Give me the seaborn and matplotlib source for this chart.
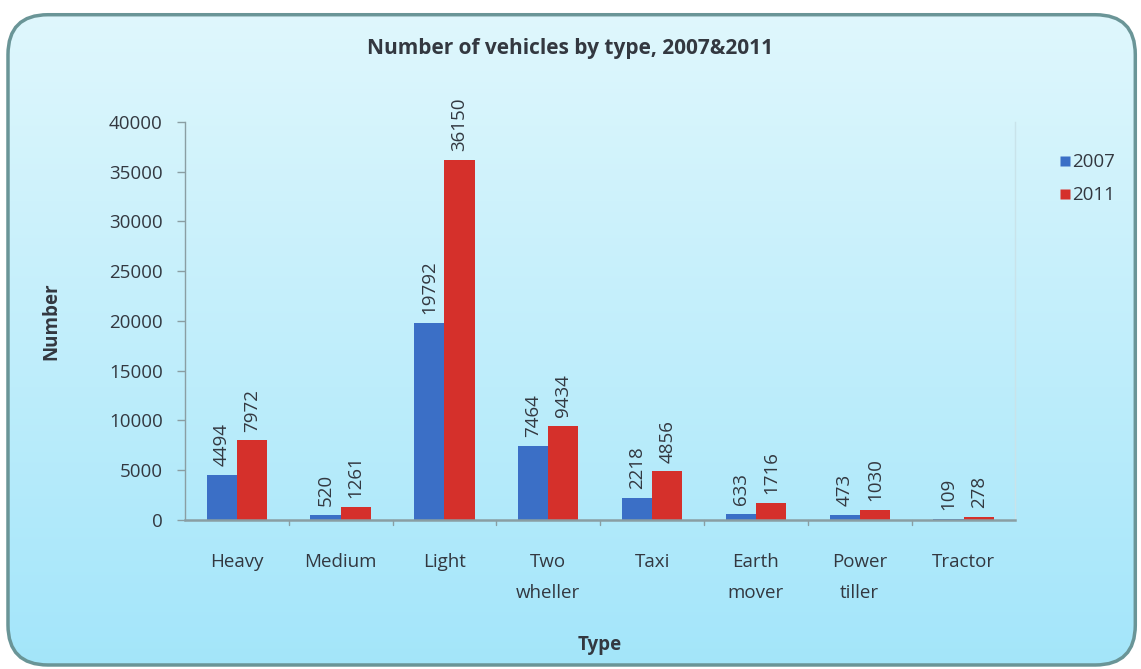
import numpy as np
import pandas as pd
import matplotlib
matplotlib.use('Agg')
import matplotlib.pyplot as plt
import seaborn as sns
from matplotlib.patches import FancyBboxPatch
from matplotlib.lines import Line2D

#------Data

types = ['Heavy', 'Medium', 'Light', 'Two\nwheller', 'Taxi', 'Earth\nmover', 'Power\ntiller', 'Tractor']
years = ['2007', '2011']
values_2007 = [4494, 520, 19792, 7464, 2218, 633, 473, 109]
values_2011 = [7972, 1261, 36150, 9434, 4856, 1716, 1030, 278]
y_ticks = [0, 5000, 10000, 15000, 20000, 25000, 30000, 35000, 40000]

df = pd.DataFrame({
    'Type': types * 2,
    'Year': [years[0]] * len(types) + [years[1]] * len(types),
    'Number': values_2007 + values_2011,
})

#-------Settings

sns.set_theme(style="white")
plt.rcParams['font.family'] = ['Open Sans', 'DejaVu Sans']
txt = '#333840'
axc = '#8a9ea3'
colors = {'2007': '#3b6fc6', '2011': '#d5302b'}

fig = plt.figure(figsize=(11.41, 6.69), dpi=100)

#------Background panel (rounded, gradient)

bg = fig.add_axes([0, 0, 1, 1])
bg.set_xlim(0, 1)
bg.set_ylim(0, 1)
bg.axis('off')
grad = np.linspace(0, 1, 256).reshape(-1, 1)
top_c = np.array([0.88, 0.97, 0.99])
bot_c = np.array([0.64, 0.90, 0.98])
img = top_c * (1 - grad[..., None]) + bot_c * grad[..., None]
img = np.repeat(img, 2, axis=1)
panel = FancyBboxPatch((0.007, 0.006), 0.988, 0.972,
                       boxstyle='round,pad=0,rounding_size=0.035',
                       mutation_aspect=1141 / 669,
                       facecolor='none', edgecolor='#6a9597', linewidth=2.5,
                       transform=bg.transAxes)
bg.add_patch(panel)
im = bg.imshow(img, extent=[0, 1, 0, 1], aspect='auto', origin='upper', zorder=0)
im.set_clip_path(panel)

#------Chart

ax = fig.add_axes([0.162, 0.223, 0.728, 0.595])
ax.patch.set_alpha(0)
sns.barplot(data=df, x='Type', y='Number', hue='Year', palette=colors,
            width=0.58, gap=0, ax=ax, legend=False, saturation=1,
            edgecolor='none')

for cont in ax.containers:
    for bar in cont:
        h = bar.get_height()
        ax.text(bar.get_x() + bar.get_width() / 2, h + 900, f'{h:.0f}',
                rotation=90, ha='center', va='bottom', fontsize=13.5, color=txt)

ax.set_ylim(0, 40000)
ax.set_xlim(-0.5, len(types) - 0.5)
ax.set_yticks(y_ticks)
ax.set_yticklabels([str(t) for t in y_ticks], fontsize=13.5, color=txt)
ax.set_xticks(range(len(types)))
ax.set_xticklabels(types, fontsize=13.5, color=txt, linespacing=1.9)
ax.tick_params(axis='x', length=0, pad=24)
ax.tick_params(axis='y', length=6, width=1, color=axc, direction='out', pad=10, left=True)
for x in np.arange(0.5, len(types) - 0.5, 1):
    ax.plot([x, x], [0, -500], color=axc, lw=1, clip_on=False)

ax.spines['top'].set_visible(False)
ax.spines['right'].set_color('#c9e3ea')
ax.spines['right'].set_linewidth(1)
ax.spines['bottom'].set_color(axc)
ax.spines['bottom'].set_linewidth(1.8)
ax.spines['left'].set_color(axc)
ax.spines['left'].set_linewidth(1)

ax.set_xlabel('Type', fontsize=13.5, fontweight='bold', color=txt, labelpad=24)
ax.set_ylabel('Number', fontsize=13.5, fontweight='bold', color=txt, labelpad=34)
fig.text(0.5, 0.928, 'Number of vehicles by type, 2007&2011', ha='center', va='center',
         fontsize=15, fontweight='bold', color=txt)

handles = [Line2D([], [], marker='s', linestyle='none', markersize=7,
                  markerfacecolor=colors[y], markeredgecolor='none') for y in years]
fig.legend(handles, years, loc='upper left', bbox_to_anchor=(0.912, 0.796),
           frameon=False, fontsize=13.5, handletextpad=0.0, labelspacing=0.8,
           labelcolor=txt, handlelength=0.8)

plt.savefig('out.png', dpi=100)
plt.close()
